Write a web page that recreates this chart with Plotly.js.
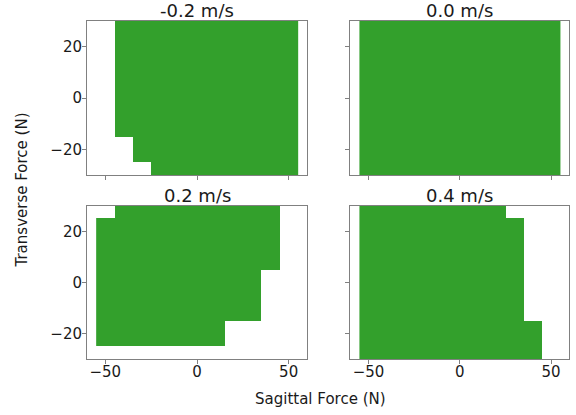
<!DOCTYPE html>
<html>
<head>
<meta charset="utf-8">
<script src="https://cdn.plot.ly/plotly-3.0.1.min.js"></script>
<style>html,body{margin:0;padding:0;background:#fff;}#chart{width:576px;height:415px;}</style>
</head>
<body>
<div id="chart"></div>
<script>
// Cell centres (N)
var sagittalCenters = [-50, -40, -30, -20, -10, 0, 10, 20, 30, 40, 50];
var transverseCenters = [-30, -20, -10, 0, 10, 20, 30];
var speedTitles = ['-0.2 m/s', '0.0 m/s', '0.2 m/s', '0.4 m/s'];

// Feasible region masks, rows follow transverseCenters (bottom to top)
var feasibleNeg02 = [
  [0,0,0,1,1,1,1,1,1,1,1],
  [0,0,1,1,1,1,1,1,1,1,1],
  [0,1,1,1,1,1,1,1,1,1,1],
  [0,1,1,1,1,1,1,1,1,1,1],
  [0,1,1,1,1,1,1,1,1,1,1],
  [0,1,1,1,1,1,1,1,1,1,1],
  [0,1,1,1,1,1,1,1,1,1,1]
];
var feasible00 = [
  [1,1,1,1,1,1,1,1,1,1,1],
  [1,1,1,1,1,1,1,1,1,1,1],
  [1,1,1,1,1,1,1,1,1,1,1],
  [1,1,1,1,1,1,1,1,1,1,1],
  [1,1,1,1,1,1,1,1,1,1,1],
  [1,1,1,1,1,1,1,1,1,1,1],
  [1,1,1,1,1,1,1,1,1,1,1]
];
var feasible02 = [
  [0,0,0,0,0,0,0,0,0,0,0],
  [1,1,1,1,1,1,1,0,0,0,0],
  [1,1,1,1,1,1,1,1,1,0,0],
  [1,1,1,1,1,1,1,1,1,0,0],
  [1,1,1,1,1,1,1,1,1,1,0],
  [1,1,1,1,1,1,1,1,1,1,0],
  [0,1,1,1,1,1,1,1,1,1,0]
];
var feasible04 = [
  [1,1,1,1,1,1,1,1,1,1,0],
  [1,1,1,1,1,1,1,1,1,1,0],
  [1,1,1,1,1,1,1,1,1,0,0],
  [1,1,1,1,1,1,1,1,1,0,0],
  [1,1,1,1,1,1,1,1,1,0,0],
  [1,1,1,1,1,1,1,1,1,0,0],
  [1,1,1,1,1,1,1,1,0,0,0]
];
var xTicks = [-50, 0, 50];
var yTicks = [-20, 0, 20];

var green = '#33a02c';
var masks = [feasibleNeg02, feasible00, feasible02, feasible04];
var axisIds = [['x','y'],['x2','y2'],['x3','y3'],['x4','y4']];

var traces = masks.map(function(m, i){
  return {
    type: 'heatmap',
    x: sagittalCenters,
    y: transverseCenters,
    z: m.map(function(r){ return r.map(function(v){ return v ? 1 : null; }); }),
    colorscale: [[0, green], [1, green]],
    zmin: 0, zmax: 1,
    showscale: false,
    hoverinfo: 'skip',
    xaxis: axisIds[i][0],
    yaxis: axisIds[i][1]
  };
});

var W = 576, H = 415;
var colX = [[87/W, 307/W], [350.3/W, 569.3/W]];
var rowY = [[1-175/H, 1-21/H], [1-359.3/H, 1-205.7/H]];
var tickFont = {family: 'DejaVu Sans', size: 15, color: '#1a1a1a'};

function xa(dom, labels){
  return {domain: dom, range: [-60, 60], showgrid: false, zeroline: false,
    showline: true, mirror: true, linecolor: '#808080', linewidth: 1,
    ticks: 'outside', ticklen: 4, tickcolor: '#808080', tickwidth: 1,
    tickmode: 'array', tickvals: xTicks, showticklabels: labels, tickfont: tickFont,
    ticklabelstandoff: -5, fixedrange: true};
}
function ya(dom, labels, anchor){
  return {domain: dom, range: [-30, 30], showgrid: false, zeroline: false,
    showline: true, mirror: true, linecolor: '#808080', linewidth: 1,
    ticks: 'outside', ticklen: 4, tickcolor: '#808080', tickwidth: 1,
    tickmode: 'array', tickvals: yTicks, showticklabels: labels, tickfont: tickFont,
    ticklabelstandoff: -3, anchor: anchor, fixedrange: true};
}

var layout = {
  width: W, height: H,
  margin: {l: 0, r: 0, t: 0, b: 0},
  paper_bgcolor: '#fff', plot_bgcolor: '#fff',
  showlegend: false,
  font: {family: 'DejaVu Sans', color: '#1a1a1a'},
  xaxis:  Object.assign(xa(colX[0], false), {anchor: 'y'}),
  yaxis:  ya(rowY[0], true, 'x'),
  xaxis2: Object.assign(xa(colX[1], false), {anchor: 'y2'}),
  yaxis2: ya(rowY[0], false, 'x2'),
  xaxis3: Object.assign(xa(colX[0], true), {anchor: 'y3'}),
  yaxis3: ya(rowY[1], true, 'x3'),
  xaxis4: Object.assign(xa(colX[1], true), {anchor: 'y4'}),
  yaxis4: ya(rowY[1], false, 'x4'),
  annotations: []
};

var titlePos = [[colX[0], rowY[0]], [colX[1], rowY[0]], [colX[0], rowY[1]], [colX[1], rowY[1]]];
titlePos.forEach(function(p, i){
  layout.annotations.push({
    text: speedTitles[i], xref: 'paper', yref: 'paper',
    x: (p[0][0] + p[0][1]) / 2, y: p[1][1], xanchor: 'center', yanchor: 'bottom',
    yshift: -2, showarrow: false, font: {family: 'DejaVu Sans', size: 18, color: '#1a1a1a'}
  });
});
layout.annotations.push({
  text: 'Sagittal Force (N)', xref: 'paper', yref: 'paper',
  x: 320/W, y: 1-399/H, xanchor: 'center', yanchor: 'middle', showarrow: false,
  font: {family: 'DejaVu Sans', size: 15, color: '#1a1a1a'}
});
layout.annotations.push({
  text: 'Transverse Force (N)', xref: 'paper', yref: 'paper',
  x: 21.5/W, y: 1-190/H, xanchor: 'center', yanchor: 'middle', textangle: -90, showarrow: false,
  font: {family: 'DejaVu Sans', size: 15, color: '#1a1a1a'}
});

Plotly.newPlot('chart', traces, layout, {staticPlot: true, displayModeBar: false});
</script>
</body>
</html>
